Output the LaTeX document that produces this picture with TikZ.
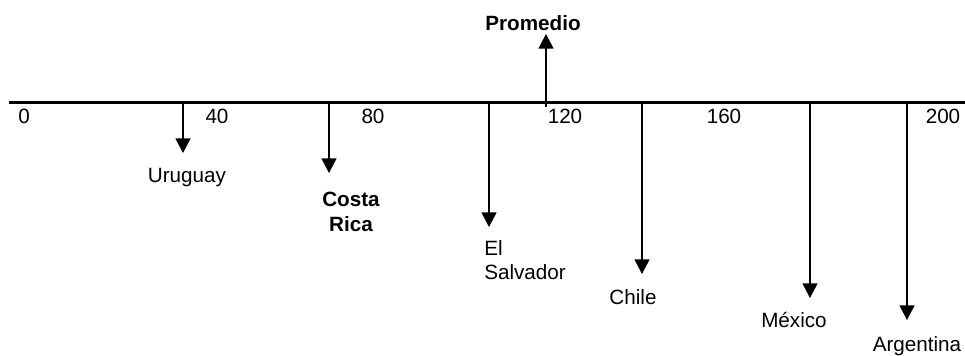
\documentclass[tikz,border=0pt]{standalone}
\usepackage{fontspec}
\setmainfont{Liberation Sans}
\usetikzlibrary{arrows.meta}
\begin{document}
\begin{tikzpicture}[x=0.75pt,y=-0.75pt,
  lbl/.style={font=\fontsize{15.5}{18.5}\selectfont, inner sep=0pt, anchor=base},
  blbl/.style={lbl, font=\fontsize{15.5}{18.5}\selectfont\bfseries},
  axisline/.style={line width=1.6pt},
  ptr/.style={line width=1.1pt, -{Triangle[width=11.25pt,length=11pt]}}]
\useasboundingbox (0,0) rectangle (965,356);
% axis
\coordinate (axL) at (9,102.5);
\coordinate (axR) at (965,102.5);
\draw[axisline] (axL) -- (axR);
% tick labels
\node[lbl] (t0) at (24,124) {0};
\node[lbl] (t40) at (217,124) {40};
\node[lbl] (t80) at (373,124) {80};
\node[lbl] (t120) at (565,124) {120};
\node[lbl] (t160) at (724,124) {160};
\node[lbl] (t200) at (943,124) {200};
% arrows
\coordinate (uS) at (183,104); \coordinate (uE) at (183,153);
\coordinate (cS) at (329,104); \coordinate (cE) at (329,173);
\coordinate (pS) at (546,107); \coordinate (pE) at (546,34);
\coordinate (eS) at (489,104); \coordinate (eE) at (489,227);
\coordinate (chS) at (642,104); \coordinate (chE) at (642,274);
\coordinate (mS) at (810,104); \coordinate (mE) at (810,298);
\coordinate (aS) at (907,104); \coordinate (aE) at (907,320);
\draw[ptr] (uS) -- (uE);
\draw[ptr] (cS) -- (cE);
\draw[ptr] (pS) -- (pE);
\draw[ptr] (eS) -- (eE);
\draw[ptr] (chS) -- (chE);
\draw[ptr] (mS) -- (mE);
\draw[ptr] (aS) -- (aE);
% labels
\node[lbl] (uru) at (187,183) {Uruguay};
\node[blbl] (prom) at (533,30.5) {Promedio};
\node[blbl, align=center, anchor=north] (cr) at (351,192) {Costa\\Rica};
\node[lbl, align=left, anchor=north west] (es) at (484,240) {El\\Salvador};
\node[lbl] (chi) at (633,305) {Chile};
\node[lbl] (mex) at (794,328) {México};
\node[lbl] (arg) at (917,352) {Argentina};
\end{tikzpicture}
\end{document}
